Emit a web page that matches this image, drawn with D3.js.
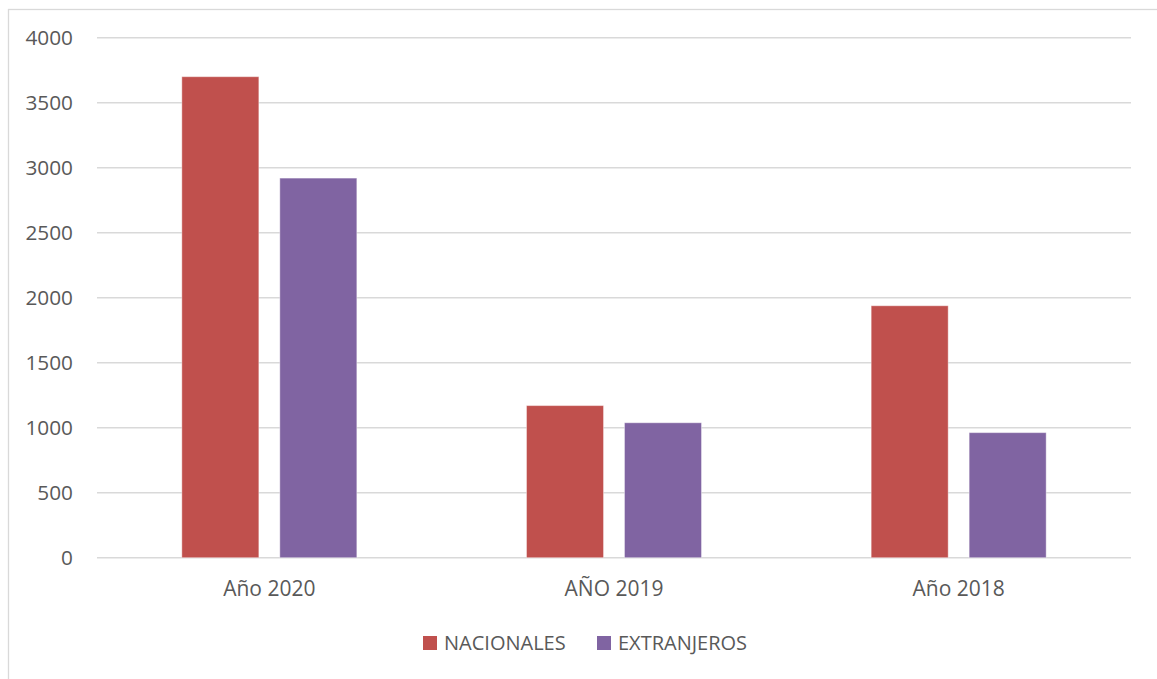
<!DOCTYPE html>
<html>
<head>
<meta charset="utf-8">
<script src="https://cdn.jsdelivr.net/npm/d3@7"></script>
<style>
  html, body { margin: 0; padding: 0; background: #fff; }
  svg { display: block; }
  text { font-family: "Open Sans", "Noto Sans", sans-serif; fill: #595959; }
</style>
</head>
<body>
<svg id="chart" width="1157" height="679"></svg>
<script>
const categories = ["Año 2020", "AÑO 2019", "Año 2018"];
const seriesNames = ["NACIONALES", "EXTRANJEROS"];
const nacionales = [3700, 1170, 1938];
const extranjeros = [2920, 1038, 962];
const yTicks = [0, 500, 1000, 1500, 2000, 2500, 3000, 3500, 4000];
const colors = ["#C0504D", "#8064A2"];

const seriesValues = [nacionales, extranjeros];
const data = categories.map((c, i) => ({
  cat: c,
  vals: seriesNames.map((s, j) => ({ key: s, value: seriesValues[j][i] }))
}));

const svg = d3.select("#chart");
const plot = { left: 97, right: 1131, top: 37.7, bottom: 557.7 };

// outer border
svg.append("rect")
  .attr("x", 8.5).attr("y", 9.5)
  .attr("width", 1152).attr("height", 672)
  .attr("fill", "none").attr("stroke", "#d9d9d9").attr("stroke-width", 1.3);

const x0 = d3.scaleBand().domain(categories).range([plot.left, plot.right]).padding(0);
const groupW = 175;
const x1 = d3.scaleBand().domain(seriesNames)
  .range([(x0.bandwidth() - groupW) / 2, (x0.bandwidth() + groupW) / 2])
  .paddingInner(0.214).paddingOuter(0);
const y = d3.scaleLinear().domain([0, 4000]).range([plot.bottom, plot.top]);
const color = d3.scaleOrdinal().domain(seriesNames).range(colors);

// gridlines
svg.append("g")
  .selectAll("line")
  .data(yTicks)
  .join("line")
  .attr("x1", plot.left).attr("x2", plot.right)
  .attr("y1", d => y(d)).attr("y2", d => y(d))
  .attr("stroke", "#d9d9d9").attr("stroke-width", 1.4);

// y axis labels
const yAxis = d3.axisLeft(y).tickValues(yTicks).tickFormat(d3.format("d")).tickSize(0).tickPadding(0);
const yg = svg.append("g").attr("transform", `translate(73,0)`).call(yAxis);
yg.select(".domain").remove();
yg.selectAll("text")
  .attr("font-size", "20.8px")
  .style("font-family", '"Open Sans", "Noto Sans", sans-serif')
  .attr("fill", "#595959")
  .attr("dy", "0.35em");

// bars
svg.append("g")
  .selectAll("g")
  .data(data)
  .join("g")
  .attr("transform", d => `translate(${x0(d.cat)},0)`)
  .selectAll("rect")
  .data(d => d.vals)
  .join("rect")
  .attr("x", d => x1(d.key))
  .attr("width", x1.bandwidth())
  .attr("y", d => y(d.value))
  .attr("height", d => y(0) - y(d.value))
  .attr("fill", d => color(d.key))
  .attr("stroke", "#ffffff").attr("stroke-opacity", 0.4).attr("stroke-width", 1);

// x axis labels
const xAxis = d3.axisBottom(x0).tickSize(0).tickPadding(0);
const xg = svg.append("g").attr("transform", `translate(0,${plot.bottom})`).call(xAxis);
xg.select(".domain").remove();
xg.selectAll("text")
  .attr("font-size", "21px")
  .style("font-family", '"Open Sans", "Noto Sans", sans-serif')
  .attr("fill", "#595959")
  .attr("y", 30.5).attr("dy", "0.35em");

// legend
const legendItems = [
  { name: seriesNames[0], sx: 423, tx: 444 },
  { name: seriesNames[1], sx: 597, tx: 618 }
];
const lg = svg.append("g");
lg.selectAll("rect")
  .data(legendItems)
  .join("rect")
  .attr("x", d => d.sx).attr("y", 636)
  .attr("width", 14).attr("height", 14)
  .attr("fill", d => color(d.name));
lg.selectAll("text")
  .data(legendItems)
  .join("text")
  .attr("x", d => d.tx).attr("y", 643)
  .attr("dy", "0.35em")
  .attr("font-size", "20px")
  .text(d => d.name);
</script>
</body>
</html>
